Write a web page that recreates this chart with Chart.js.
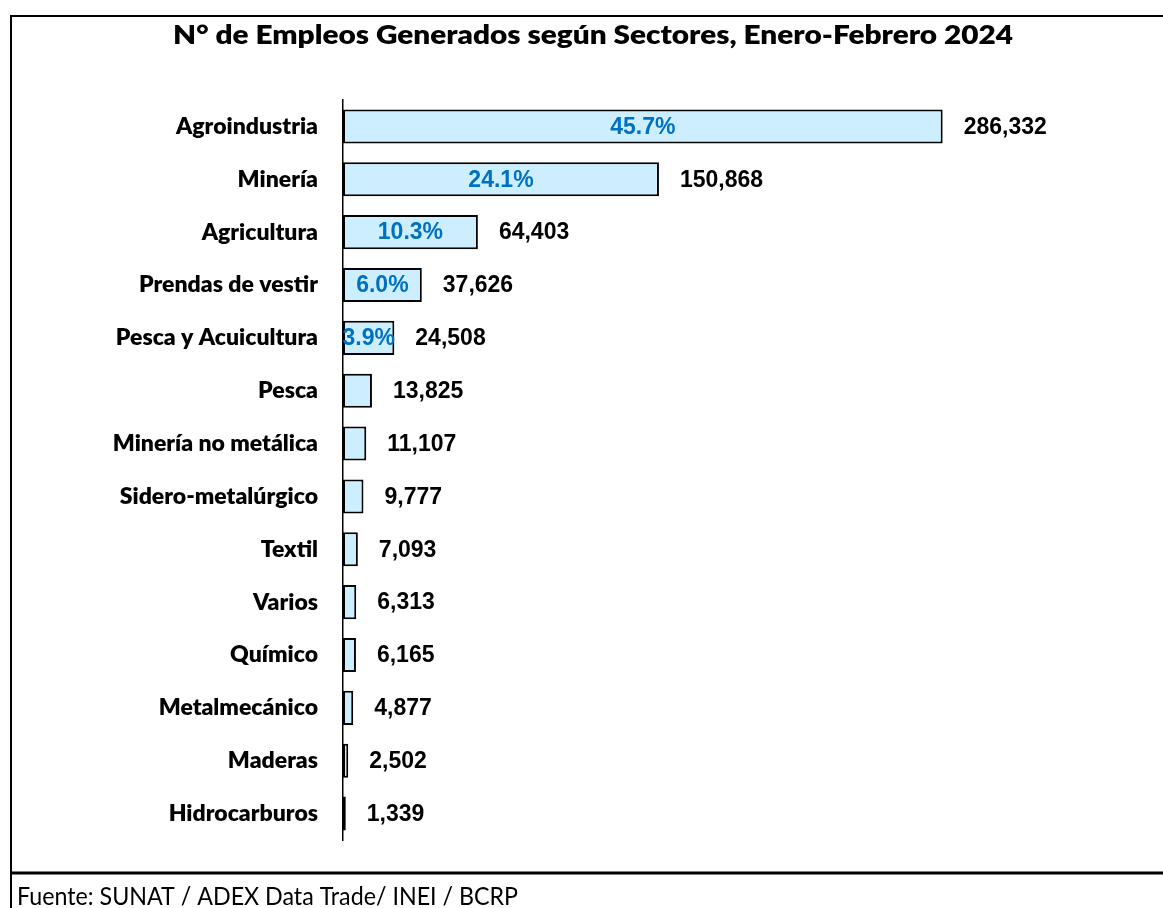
<!DOCTYPE html>
<html>
<head>
<meta charset="utf-8">
<script src="https://cdn.jsdelivr.net/npm/chart.js@4.4.1/dist/chart.umd.min.js"></script>
<style>
  html, body { margin: 0; padding: 0; background: #ffffff; }
  #wrap { width: 1163px; height: 908px; position: relative; }
</style>
</head>
<body>
<div id="wrap"><canvas id="c" width="1163" height="908"></canvas></div>
<script>
const titleText = "N° de Empleos Generados según Sectores, Enero-Febrero 2024";
const sourceText = "Fuente: SUNAT / ADEX Data Trade/ INEI / BCRP";
const sectors = ["Agroindustria", "Minería", "Agricultura", "Prendas de vestir", "Pesca y Acuicultura", "Pesca", "Minería no metálica", "Sidero-metalúrgico", "Textil", "Varios", "Químico", "Metalmecánico", "Maderas", "Hidrocarburos"];
const jobs = [286332, 150868, 64403, 37626, 24508, 13825, 11107, 9777, 7093, 6313, 6165, 4877, 2502, 1339];
const shares = [45.7, 24.1, 10.3, 6.0, 3.9, null, null, null, null, null, null, null, null, null];

// fit category label font size to the reference width of "Agroindustria"
const mctx = document.createElement('canvas').getContext('2d');
mctx.font = "800 100px Lato";
const catSize = Math.round(142 / mctx.measureText("Agroindustria").width * 100 * 10) / 10;

const fmt = v => v.toLocaleString('en-US');

const framePlugin = {
  id: 'frame',
  beforeDraw(chart) {
    const ctx = chart.ctx;
    ctx.save();
    ctx.fillStyle = '#ffffff';
    ctx.fillRect(0, 0, chart.width, chart.height);
    ctx.strokeStyle = '#000000';
    ctx.lineWidth = 2;
    ctx.beginPath();
    ctx.moveTo(1170, 16);
    ctx.lineTo(11, 16);
    ctx.lineTo(11, 908);
    ctx.stroke();
    ctx.lineWidth = 3;
    ctx.beginPath();
    ctx.moveTo(11, 873);
    ctx.lineTo(1170, 873);
    ctx.stroke();
    // title
    ctx.fillStyle = '#000000';
    ctx.font = "800 26.5px Lato";
    const tw = ctx.measureText(titleText).width;
    ctx.textBaseline = 'alphabetic';
    ctx.textAlign = 'left';
    ctx.save();
    ctx.translate(173, 44);
    ctx.scale(840 / tw, 1);
    ctx.fillText(titleText, 0, 0);
    ctx.restore();
    // source
    ctx.font = "25px Lato";
    const sw = ctx.measureText(sourceText).width;
    ctx.save();
    ctx.translate(17, 905);
    ctx.scale(501 / sw, 1);
    ctx.fillText(sourceText, 0, 0);
    ctx.restore();
    ctx.restore();
  }
};

const labelPlugin = {
  id: 'barLabels',
  afterDatasetsDraw(chart) {
    const ctx = chart.ctx;
    const meta = chart.getDatasetMeta(0);
    ctx.save();
    ctx.textBaseline = 'middle';
    meta.data.forEach((bar, i) => {
      ctx.fillStyle = '#000000';
      ctx.font = "bold 23px 'Liberation Sans', Arial, sans-serif";
      ctx.textAlign = 'left';
      ctx.fillText(fmt(jobs[i]), bar.x + 21, bar.y + 1);
      if (shares[i] !== null) {
        ctx.fillStyle = '#0070C0';
        ctx.textAlign = 'center';
        ctx.fillText(shares[i].toFixed(1) + '%', (bar.base + bar.x) / 2, bar.y + 1);
      }
    });
    ctx.restore();
  }
};

new Chart(document.getElementById('c'), {
  type: 'bar',
  data: {
    labels: sectors,
    datasets: [{
      data: jobs,
      backgroundColor: '#CCEEFF',
      borderColor: '#000000',
      borderWidth: 2,
      borderSkipped: false,
      categoryPercentage: 1.0,
      barPercentage: 0.645
    }]
  },
  options: {
    indexAxis: 'y',
    responsive: false,
    animation: false,
    devicePixelRatio: 1,
    layout: { padding: { left: 0, top: 100, right: 87, bottom: 68 } },
    plugins: { legend: { display: false }, title: { display: false }, tooltip: { enabled: false } },
    scales: {
      x: { display: false, min: 0, max: 350000 },
      y: {
        afterFit(scale) { scale.width = 343; },
        grid: { display: false, drawTicks: false },
        border: { display: true, color: '#000000', width: 1.5 },
        ticks: {
          color: '#000000',
          padding: 25,
          font: { family: 'Lato', weight: '800', size: catSize }
        }
      }
    }
  },
  plugins: [framePlugin, labelPlugin]
});
</script>
</body>
</html>
